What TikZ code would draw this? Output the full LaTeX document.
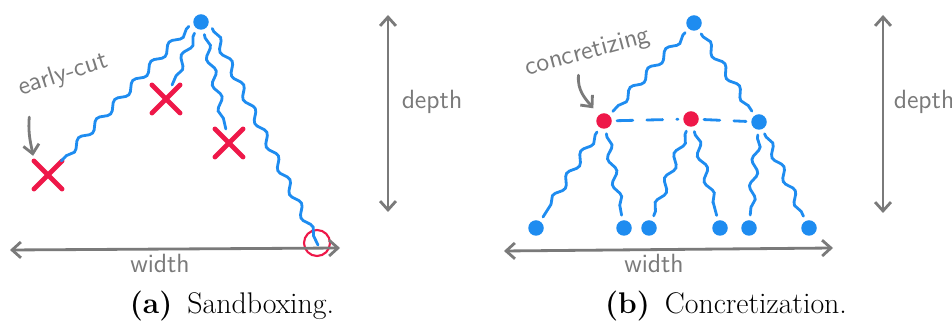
\documentclass[tikz,border=0pt]{standalone}
\usetikzlibrary{arrows.meta,decorations.pathmorphing,shapes.misc}
\definecolor{treeblue}{HTML}{1E8CF0}
\definecolor{cutred}{HTML}{EE1849}
\definecolor{pencil}{HTML}{7A7A7A}

\begin{document}
\begin{tikzpicture}[x=0.02cm, y=0.02cm,
  dot/.style={circle, fill=treeblue, inner sep=0pt, minimum size=0.31cm, outer sep=3pt},
  hotdot/.style={dot, fill=cutred},
  branch/.style={treeblue, line width=1.6pt, line cap=round, decorate,
    decoration={snake, amplitude=2pt, segment length=15pt, pre length=2pt, post length=2pt}},
  cut/.style={cross out, draw=cutred, line width=2.8pt, line cap=round,
    minimum size=0.42cm, inner sep=0pt, outer sep=2pt},
  pencilline/.style={pencil, line width=1.6pt, line cap=round},
  barb/.style={pencilline, -{Straight Barb[length=5pt,width=9pt]}},
  both/.style={pencilline, {Straight Barb[length=5pt,width=9pt]}-{Straight Barb[length=5pt,width=9pt]}},
  scribble/.style={pencil, font=\sffamily\fontsize{15}{18}\selectfont},
  caption/.style={font=\fontsize{17}{20}\selectfont}]

  \useasboundingbox (0,0) rectangle (952,323);

  \node[dot] (rootA) at (201,301) {};
  \node[cut] (cutA) at (48,148) {};
  \node[cut] (cutB) at (166,224) {};
  \node[cut] (cutC) at (229,180) {};
  \coordinate (leafA) at (318,78);
  \node[circle, draw=cutred, line width=1.2pt, minimum size=0.52cm] (limitA) at (317,80) {};

  \draw[branch] (rootA.200) -- (cutA);
  \draw[branch] (rootA.240) -- (cutB);
  \draw[branch] (rootA.285) -- (cutC);
  \draw[branch] (rootA.330) -- (leafA);

  \node[scribble, rotate=18] (cutlbl) at (63,248) {early-cut};
  \draw[barb, shorten >=3pt] ([xshift=6pt,yshift=-5pt]cutlbl.south west) to[out=265, in=100] (cutA.north west);

  \coordinate (wleftA) at (10,73);
  \coordinate (wrightA) at (340,75);
  \draw[both] (wleftA) -- (wrightA);
  \node[scribble] (widthA) at (160,60) {width};

  \coordinate (dtopA) at (388,308);
  \coordinate (dbotA) at (388,111);
  \draw[both] (dtopA) -- (dbotA);
  \node[scribble] (depthA) at (432,221) {depth};

  \node[caption] (capA) at (232,17) {\textbf{(a)}\enspace Sandboxing.};

  \node[dot] (rootB) at (694,300) {};
  \node[hotdot] (concA) at (604,202) {};
  \node[hotdot] (concB) at (691,204) {};
  \node[dot] (midB) at (759,201) {};
  \node[dot] (leafB1) at (536,95) {};
  \node[dot] (leafB2) at (624,95) {};
  \node[dot] (leafB3) at (649,95) {};
  \node[dot] (leafB4) at (720,95) {};
  \node[dot] (leafB5) at (749,95) {};
  \node[dot] (leafB6) at (809,95) {};

  \draw[branch] (rootB) -- (concA);
  \draw[branch] (rootB) -- (midB);
  \draw[treeblue, line width=1.6pt, line cap=round, dash pattern=on 9pt off 8pt]
    (concA) -- (concB) -- (midB);
  \draw[branch] (concA) -- (leafB1);
  \draw[branch] (concA) -- (leafB2);
  \draw[branch] (concB) -- (leafB3);
  \draw[branch] (concB) -- (leafB4);
  \draw[branch] (midB) -- (leafB5);
  \draw[branch] (midB) -- (leafB6);

  \node[scribble, rotate=15] (conclbl) at (588,270) {concretizing};
  \draw[barb, shorten >=2pt] ([xshift=-8pt,yshift=-3pt]conclbl.south) to[out=265, in=130] (concA);

  \coordinate (wleftB) at (504,72);
  \coordinate (wrightB) at (833,75);
  \draw[both] (wleftB) -- (wrightB);
  \node[scribble] (widthB) at (654,60) {width};

  \coordinate (dtopB) at (883,308);
  \coordinate (dbotB) at (883,110);
  \draw[both] (dtopB) -- (dbotB);
  \node[scribble] (depthB) at (924,221) {depth};

  \node[caption] (capB) at (726,17) {\textbf{(b)}\enspace Concretization.};
\end{tikzpicture}
\end{document}
